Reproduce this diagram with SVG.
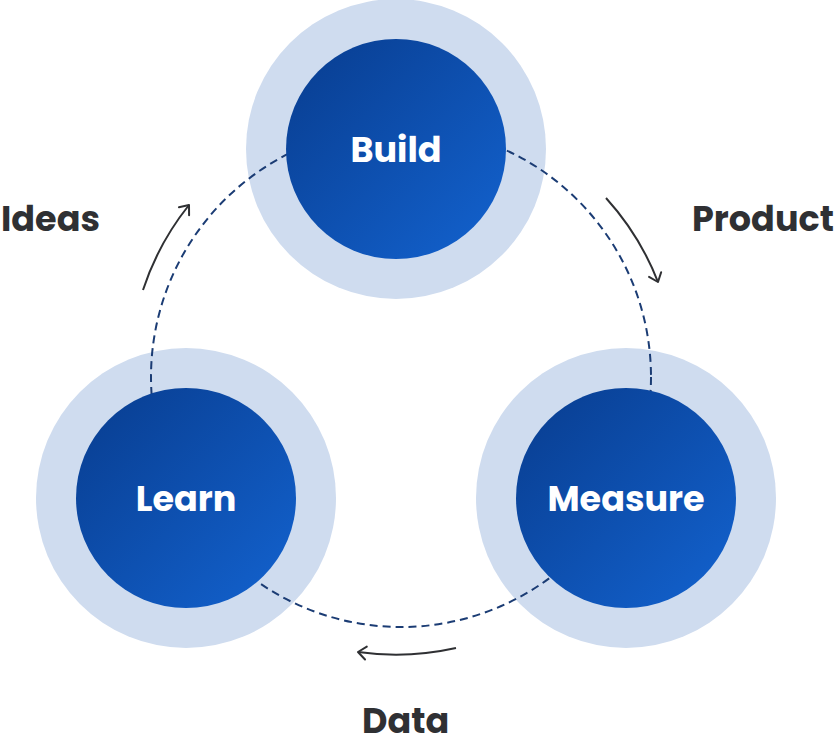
<svg xmlns="http://www.w3.org/2000/svg" width="836" height="748" viewBox="0 0 836 748">
<defs>
<linearGradient id="g" x1="0" y1="0" x2="1" y2="1">
<stop offset="0" stop-color="#083c8e"/>
<stop offset="1" stop-color="#1363d0"/>
</linearGradient>
<marker id="ah" markerUnits="userSpaceOnUse" markerWidth="20" markerHeight="20" viewBox="-12 -10 14 20" refX="0" refY="0" orient="auto">
<path d="M-8,-6.5 L0,0 L-8,6.5" fill="none" stroke="#2f3033" stroke-width="2" stroke-linecap="round" stroke-linejoin="round"/>
</marker>
<style>
.ring{fill:#cfdcef}
.core{fill:url(#g)}
.nt{font-family:"Poppins","Inter","Liberation Sans",sans-serif;font-weight:700;font-size:35px;fill:#ffffff;text-anchor:middle}
.lb{font-family:"Poppins","Inter","Liberation Sans",sans-serif;font-weight:700;font-size:35px;fill:#2f3033}
.dash{fill:none;stroke:#1b3c74;stroke-width:2;stroke-dasharray:8 5}
.arr{fill:none;stroke:#2f3033;stroke-width:2;marker-end:url(#ah)}
</style>
</defs>
<rect width="836" height="748" fill="#ffffff"/>
<g id="rings">
<circle class="ring" cx="396" cy="149" r="150"/>
<circle class="ring" cx="186" cy="498" r="150"/>
<circle class="ring" cx="626" cy="498" r="150"/>
</g>
<g id="connectors">
<circle class="dash" cx="401" cy="377" r="250"/>
<path class="arr" d="M143,290 A272,272 0 0 1 189,205"/>
<path class="arr" d="M606,198 A272,272 0 0 1 658,282"/>
<path class="arr" d="M456,648 A277,277 0 0 1 358,652"/>
</g>
<g id="build">
<circle class="core" cx="396" cy="149" r="110"/>
<text class="nt" x="396" y="162">Build</text>
</g>
<g id="learn">
<circle class="core" cx="186" cy="498" r="110"/>
<text class="nt" x="186" y="511">Learn</text>
</g>
<g id="measure">
<circle class="core" cx="626" cy="498" r="110"/>
<text class="nt" x="626" y="511">Measure</text>
</g>
<g id="labels">
<text class="lb" x="1" y="231">Ideas</text>
<text class="lb" x="692" y="231">Product</text>
<text class="lb" x="362" y="733">Data</text>
</g>
</svg>
